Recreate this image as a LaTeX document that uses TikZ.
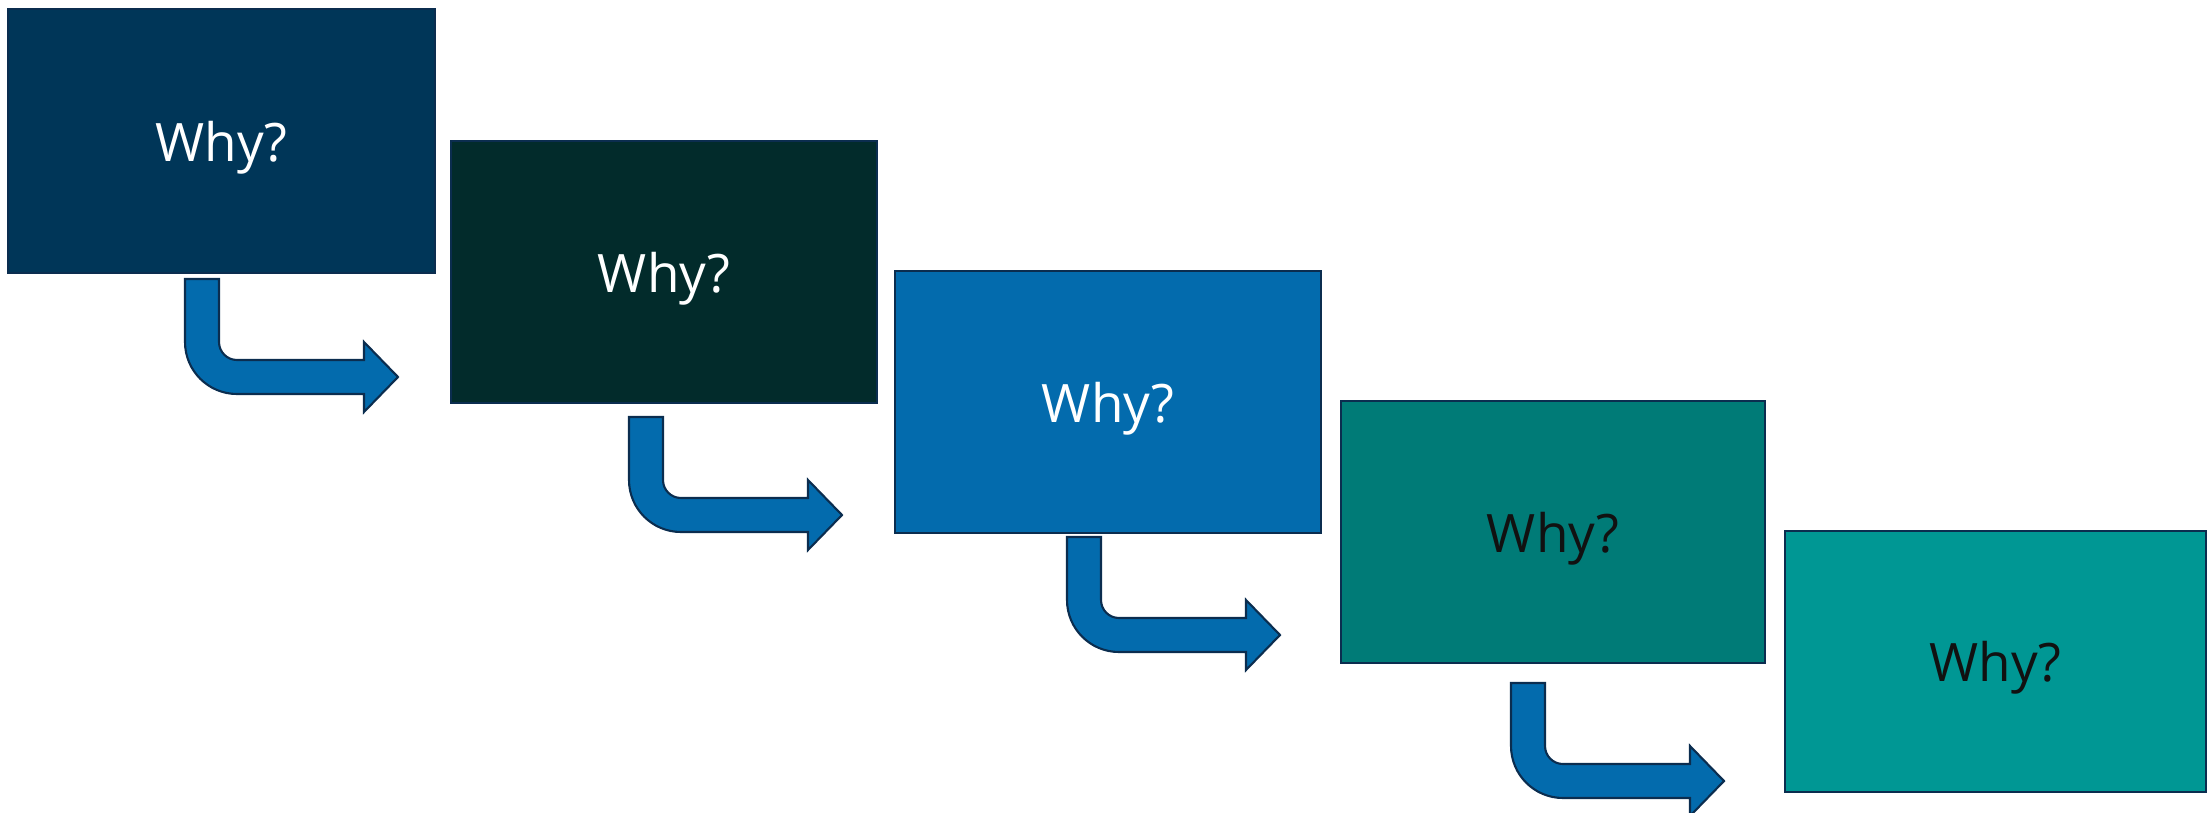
\documentclass[tikz,border=0pt]{standalone}
\usepackage{fontspec}
\setmainfont{Open Sans}
\definecolor{cA}{HTML}{003658}
\definecolor{cB}{HTML}{022B2B}
\definecolor{cC}{HTML}{036BAD}
\definecolor{cD}{HTML}{007B77}
\definecolor{cE}{HTML}{009794}
\definecolor{edge}{HTML}{0B2D4F}
\definecolor{darktext}{HTML}{111111}
\tikzset{
  whybox/.style={draw=edge, line width=1.6bp, rectangle, anchor=north west,
    inner sep=0pt, outer sep=0pt, text depth=0pt,
    font=\fontsize{53bp}{60bp}\selectfont},
  arrowshape/.style={draw=edge, fill=cC, line width=2.1bp, line join=miter},
  bentarrow/.pic={
    \path[arrowshape] (0,0) -- (34,0) -- (34,63)
      .. controls (34,72.94) and (42.06,81) .. (52,81)
      -- (179,81) -- (179,63) -- (213,98) -- (179,133) -- (179,115)
      -- (52,115)
      .. controls (23.28,115) and (0,91.72) .. (0,63) -- cycle;
  }
}
\begin{document}
\begin{tikzpicture}[x=1bp,y=-1bp]
\useasboundingbox (0,0) rectangle (2207,812);
\node[whybox, fill=cA, text=white, minimum width=427bp, minimum height=264bp] (b1) at (8,9) {Why?};
\node[whybox, fill=cB, text=white, minimum width=426bp, minimum height=262bp] (b2) at (451,141) {Why?};
\node[whybox, fill=cC, text=white, minimum width=426bp, minimum height=262bp] (b3) at (895,271) {Why?};
\node[whybox, fill=cD, text=darktext, minimum width=424bp, minimum height=262bp] (b4) at (1341,401) {Why?};
\node[whybox, fill=cE, text=darktext, minimum width=421bp, minimum height=261bp] (b5) at (1785,531) {Why?};
\pic (a1) at (185,279) {bentarrow};
\pic (a2) at (629,417) {bentarrow};
\pic (a3) at (1067,537) {bentarrow};
\pic (a4) at (1511,683) {bentarrow};
\end{tikzpicture}
\end{document}
